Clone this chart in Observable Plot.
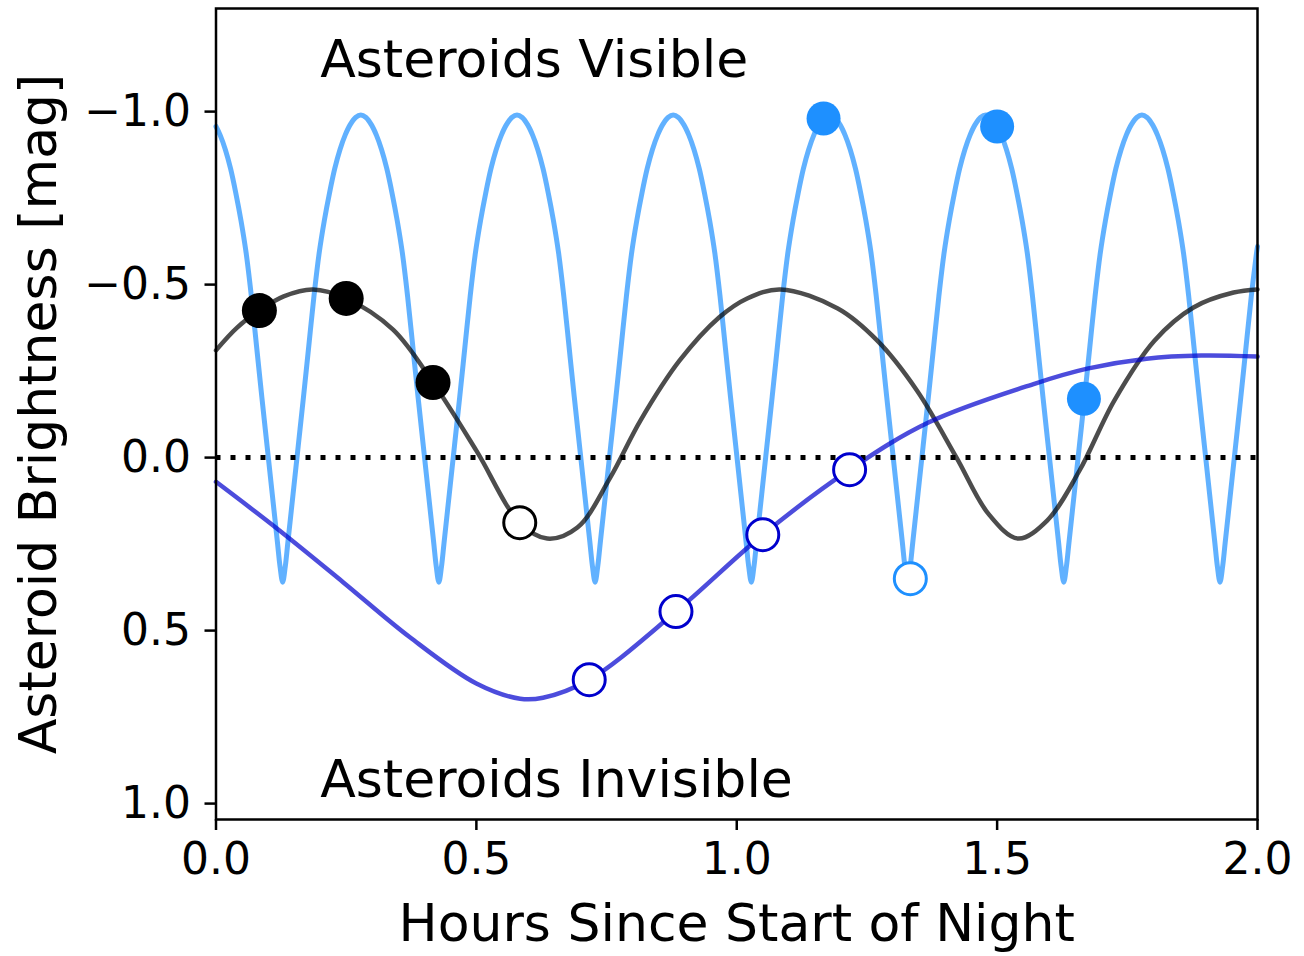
<!DOCTYPE html>
<html>
<head>
<meta charset="utf-8">
<script src="https://cdn.jsdelivr.net/npm/d3@7"></script>
<script src="https://cdn.jsdelivr.net/npm/@observablehq/plot@0.6"></script>
<style>
  html, body { margin: 0; padding: 0; background: #fff; }
  svg { display: block; }
</style>
</head>
<body>
<div id="chart"></div>
<script>
// ---- Fast rotator light curve (light blue) ----
const fastHours = [
  0,0.008,0.018,0.028,0.038,0.048,0.058,0.068,0.078,0.088,0.098,0.108,0.118,0.123,0.128,0.133,0.138,0.148,0.158,0.168,0.178,0.188,0.198,0.208,0.218,0.228,0.238,0.248,0.258,0.268,0.278,
  0.288,0.298,0.308,0.318,0.328,0.338,0.348,0.358,0.368,0.378,0.388,0.398,0.408,0.418,0.423,0.428,0.433,0.438,0.448,0.458,0.468,0.478,0.488,0.498,0.508,0.518,0.528,0.538,0.548,0.558,0.568,0.578,
  0.588,0.598,0.608,0.618,0.628,0.638,0.648,0.658,0.668,0.678,0.688,0.698,0.708,0.718,0.723,0.728,0.733,0.738,0.748,0.758,0.768,0.778,0.788,0.798,0.808,0.818,0.828,0.838,0.848,0.858,0.868,0.878,
  0.888,0.898,0.908,0.918,0.928,0.938,0.948,0.958,0.968,0.978,0.988,0.998,1.008,1.018,1.023,1.028,1.033,1.038,1.048,1.058,1.068,1.078,1.088,1.098,1.108,1.118,1.128,1.138,1.148,1.158,1.168,1.178,
  1.188,1.198,1.208,1.218,1.228,1.238,1.248,1.258,1.268,1.278,1.288,1.298,1.308,1.318,1.323,1.328,1.333,1.338,1.348,1.358,1.368,1.378,1.388,1.398,1.408,1.418,1.428,1.438,1.448,1.458,1.468,1.478,
  1.488,1.498,1.508,1.518,1.528,1.538,1.548,1.558,1.568,1.578,1.588,1.598,1.608,1.618,1.623,1.628,1.633,1.638,1.648,1.658,1.668,1.678,1.688,1.698,1.708,1.718,1.728,1.738,1.748,1.758,1.768,1.778,
  1.788,1.798,1.808,1.818,1.828,1.838,1.848,1.858,1.868,1.878,1.888,1.898,1.908,1.918,1.923,1.928,1.933,1.938,1.948,1.958,1.968,1.978,1.988,1.998,2.0
];
const fastMag = [
  -0.957,-0.932,-0.89,-0.835,-0.765,-0.685,-0.59,-0.465,-0.32,-0.175,-0.035,0.105,0.245,0.315,0.36,0.315,0.245,0.105,-0.035,-0.175,-0.32,-0.465,-0.59,-0.685,-0.765,-0.835,-0.89,-0.932,-0.963,-0.983,-0.99,
  -0.983,-0.963,-0.932,-0.89,-0.835,-0.765,-0.685,-0.59,-0.465,-0.32,-0.175,-0.035,0.105,0.245,0.315,0.36,0.315,0.245,0.105,-0.035,-0.175,-0.32,-0.465,-0.59,-0.685,-0.765,-0.835,-0.89,-0.932,-0.963,-0.983,-0.99,
  -0.983,-0.963,-0.932,-0.89,-0.835,-0.765,-0.685,-0.59,-0.465,-0.32,-0.175,-0.035,0.105,0.245,0.315,0.36,0.315,0.245,0.105,-0.035,-0.175,-0.32,-0.465,-0.59,-0.685,-0.765,-0.835,-0.89,-0.932,-0.963,-0.983,-0.99,
  -0.983,-0.963,-0.932,-0.89,-0.835,-0.765,-0.685,-0.59,-0.465,-0.32,-0.175,-0.035,0.105,0.245,0.315,0.36,0.315,0.245,0.105,-0.035,-0.175,-0.32,-0.465,-0.59,-0.685,-0.765,-0.835,-0.89,-0.932,-0.963,-0.983,-0.99,
  -0.983,-0.963,-0.932,-0.89,-0.835,-0.765,-0.685,-0.59,-0.465,-0.32,-0.175,-0.035,0.105,0.245,0.315,0.36,0.315,0.245,0.105,-0.035,-0.175,-0.32,-0.465,-0.59,-0.685,-0.765,-0.835,-0.89,-0.932,-0.963,-0.983,-0.99,
  -0.983,-0.963,-0.932,-0.89,-0.835,-0.765,-0.685,-0.59,-0.465,-0.32,-0.175,-0.035,0.105,0.245,0.315,0.36,0.315,0.245,0.105,-0.035,-0.175,-0.32,-0.465,-0.59,-0.685,-0.765,-0.835,-0.89,-0.932,-0.963,-0.983,-0.99,
  -0.983,-0.963,-0.932,-0.89,-0.835,-0.765,-0.685,-0.59,-0.465,-0.32,-0.175,-0.035,0.105,0.245,0.315,0.36,0.315,0.245,0.105,-0.035,-0.175,-0.32,-0.465,-0.59,-0.61
];

// ---- Medium rotator light curve (grey) ----
const midHours = [0, 0.04, 0.0833, 0.13, 0.186, 0.25, 0.34, 0.4167, 0.5, 0.5833, 0.636, 0.694, 0.757, 0.815, 0.89, 0.966, 1.02, 1.084, 1.194, 1.27, 1.346, 1.422, 1.483, 1.54, 1.596, 1.658, 1.725, 1.802, 1.877, 1.954, 2.0];
const midMag   = [-0.31, -0.375, -0.425, -0.466, -0.486, -0.46, -0.37, -0.217, -0.02, 0.188, 0.234, 0.202, 0.058, -0.107, -0.28, -0.405, -0.46, -0.486, -0.431, -0.338, -0.194, 0.0, 0.162, 0.234, 0.182, 0.038, -0.165, -0.338, -0.434, -0.477, -0.486];

// ---- Slow rotator light curve (dark blue) ----
const slowHours = [0, 0.117, 0.244, 0.373, 0.5, 0.584, 0.628, 0.7167, 0.8833, 1.05, 1.2167, 1.369, 1.573, 1.673, 1.787, 1.892, 2.0];
const slowMag   = [0.07, 0.205, 0.36, 0.52, 0.653, 0.697, 0.694, 0.642, 0.445, 0.223, 0.035, -0.102, -0.214, -0.257, -0.286, -0.295, -0.292];

// ---- Observations ----
const midSeenHours = [0.0833, 0.25, 0.4167];
const midSeenMag   = [-0.425, -0.46, -0.217];
const midMissHours = [0.5833];
const midMissMag   = [0.188];
const slowMissHours = [0.7167, 0.8833, 1.05, 1.2167];
const slowMissMag   = [0.642, 0.445, 0.223, 0.035];
const fastSeenHours = [1.1667, 1.5, 1.6667];
const fastSeenMag   = [-0.98, -0.957, -0.17];
const fastMissHours = [1.3333];
const fastMissMag   = [0.35];

// ---- Axes & labels ----
const xTicks = [0, 0.5, 1.0, 1.5, 2.0];
const yTicks = [-1.0, -0.5, 0.0, 0.5, 1.0];
const threshold = [0];
const noteText  = ["Asteroids Visible", "Asteroids Invisible"];
const noteHours = [0.2, 0.2];
const noteMag   = [-1.1, 0.98];
const xTitle = "Hours Since Start of Night";
const yTitle = "Asteroid Brightness [mag]";

const rows = (xs, ys) => xs.map((x, i) => ({x, y: ys[i]}));
const notes = noteText.map((t, i) => ({t, x: noteHours[i], y: noteMag[i]}));

const chart = Plot.plot({
  width: 1304,
  height: 956,
  marginLeft: 215.5,
  marginRight: 47,
  marginTop: 8,
  marginBottom: 137,
  x: {domain: [0, 2]},
  y: {domain: [1.046, -1.298]},
  style: {fontFamily: "DejaVu Sans", background: "white", color: "black"},
  marks: [
    Plot.line(rows(fastHours, fastMag), {x: "x", y: "y", stroke: "#1e90ff", strokeOpacity: 0.7, strokeWidth: 5, curve: "catmull-rom"}),
    Plot.line(rows(midHours, midMag), {x: "x", y: "y", stroke: "black", strokeOpacity: 0.7, strokeWidth: 4.5, curve: "catmull-rom"}),
    Plot.line(rows(slowHours, slowMag), {x: "x", y: "y", stroke: "#0000cd", strokeOpacity: 0.7, strokeWidth: 4.5, curve: "catmull-rom"}),
    Plot.ruleY(threshold, {stroke: "black", strokeWidth: 5, strokeDasharray: "5,10"}),
    Plot.dot(rows(midSeenHours, midSeenMag), {x: "x", y: "y", r: 17.5, fill: "black", stroke: "none"}),
    Plot.dot(rows(midMissHours, midMissMag), {x: "x", y: "y", r: 16, fill: "white", stroke: "black", strokeWidth: 3}),
    Plot.dot(rows(slowMissHours, slowMissMag), {x: "x", y: "y", r: 16, fill: "white", stroke: "#0000cd", strokeWidth: 3}),
    Plot.dot(rows(fastSeenHours, fastSeenMag), {x: "x", y: "y", r: 17, fill: "#1e90ff", stroke: "none"}),
    Plot.dot(rows(fastMissHours, fastMissMag), {x: "x", y: "y", r: 16, fill: "white", stroke: "#1e90ff", strokeWidth: 3}),
    Plot.text(notes, {x: "x", y: "y", text: "t", textAnchor: "start", lineAnchor: "bottom", fontSize: 52, fill: "black"}),
    Plot.frame({stroke: "black", strokeWidth: 2.5}),
    Plot.axisX(xTicks, {tickFormat: d3.format(".1f"), tickSize: 11, tickPadding: 12, fontSize: 44, strokeWidth: 2.5, label: null}),
    Plot.axisY(yTicks, {tickFormat: d3.format(".1f"), tickSize: 11, tickPadding: 14, fontSize: 44, strokeWidth: 2.5, label: null}),
    Plot.text([xTitle], {text: d => d, frameAnchor: "bottom", dy: 121, lineAnchor: "bottom", fontSize: 52, fill: "black"}),
    Plot.text([yTitle], {text: d => d, frameAnchor: "left", textAnchor: "middle", dx: -160, rotate: -90, lineAnchor: "bottom", fontSize: 52, fill: "black"})
  ]
});
document.getElementById("chart").appendChild(chart);
</script>
</body>
</html>
